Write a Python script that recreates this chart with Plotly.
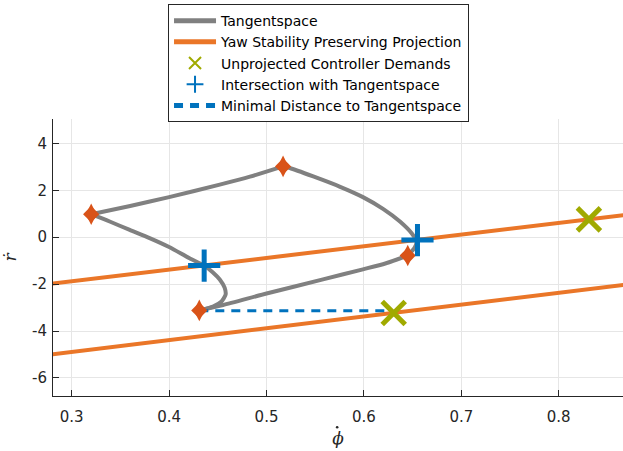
import plotly.graph_objects as go

# ---- data ----
# Tangentspace: four boundary segments (None separates segments)
tangent_x = [0.320, 0.360, 0.400, 0.452, 0.483, 0.517, None,
             0.517, 0.524, 0.548, 0.575, 0.599, 0.620, 0.637, 0.649, 0.654, 0.652, 0.645, None,
             0.645, 0.622, 0.599, 0.558, 0.500, 0.4555, 0.431, None,
             0.431, 0.445, 0.4535, 0.458, 0.457, 0.452, 0.445, 0.436, 0.421, 0.400, 0.380, 0.3596, 0.339, 0.320]
tangent_y = [0.98, 1.33, 1.71, 2.24, 2.58, 3.02, None,
             3.02, 2.95, 2.59, 2.16, 1.71, 1.20, 0.67, 0.17, -0.19, -0.45, -0.78, None,
             -0.78, -1.12, -1.37, -1.80, -2.40, -2.89, -3.12, None,
             -3.12, -2.96, -2.75, -2.45, -2.15, -1.80, -1.50, -1.21, -0.90, -0.42, -0.04, 0.31, 0.67, 0.98]

# Yaw stability preserving projection lines (two lines)
proj_x = [0.280, 0.870, None, 0.280, 0.870]
proj_y = [-1.98, 0.96, None, -4.99, -2.02]

# Corner points of the tangent space
corner_x = [0.320, 0.517, 0.645, 0.431]
corner_y = [0.98, 3.02, -0.78, -3.12]

# Unprojected controller demands
demand_x = [0.831, 0.6306]
demand_y = [0.76, -3.23]

# Intersections with tangent space
inter_x = [0.436, 0.655]
inter_y = [-1.21, -0.12]

# Minimal distance line
mind_x = [0.431, 0.630]
mind_y = [-3.14, -3.14]

xticks = [0.3, 0.4, 0.5, 0.6, 0.7, 0.8]
xticklabels = ["0.3", "0.4", "0.5", "0.6", "0.7", "0.8"]
yticks = [-6, -4, -2, 0, 2, 4]
yticklabels = ["-6", "-4", "-2", "0", "2", "4"]

GRAY = "#808080"
ORANGE = "#EA7628"
OLIVE = "#A0AA00"
BLUE = "#0072BD"
RED = "#D95319"
AX = "#262626"
SANS = "DejaVu Sans, Liberation Sans, sans-serif"
SERIF = "DejaVu Serif, serif"

fig = go.Figure()

fig.add_trace(go.Scatter(x=proj_x, y=proj_y, mode="lines",
                         line=dict(color=ORANGE, width=4),
                         name="Yaw Stability Preserving Projection", legendrank=2))
fig.add_trace(go.Scatter(x=tangent_x, y=tangent_y, mode="lines",
                         line=dict(color=GRAY, width=4, shape="spline", smoothing=0.6),
                         connectgaps=False,
                         name="Tangentspace", legendrank=1))
fig.add_trace(go.Scatter(x=mind_x, y=mind_y, mode="lines",
                         line=dict(color=BLUE, width=3, dash="9px,7px"),
                         name="Minimal Distance to Tangentspace", legendrank=5))
# diamond markers (two overlapping symbols give MATLAB's taller diamond)
fig.add_trace(go.Scatter(x=corner_x, y=corner_y, mode="markers",
                         marker=dict(symbol="diamond", size=12.5, color=RED),
                         showlegend=False, hoverinfo="skip"))
fig.add_trace(go.Scatter(x=corner_x, y=corner_y, mode="markers",
                         marker=dict(symbol="diamond-tall", size=15.5, color=RED),
                         showlegend=False))
fig.add_trace(go.Scatter(x=demand_x, y=demand_y, mode="markers",
                         marker=dict(symbol="x-thin", size=23,
                                     line=dict(color=OLIVE, width=5)),
                         name="Unprojected Controller Demands", legendrank=3))
fig.add_trace(go.Scatter(x=inter_x, y=inter_y, mode="markers",
                         marker=dict(symbol="cross-thin", size=23,
                                     line=dict(color=BLUE, width=5)),
                         name="Intersection with Tangentspace", legendrank=4))

fig.update_layout(
    width=623, height=451,
    margin=dict(l=53, r=0, t=119, b=55, autoexpand=False),
    paper_bgcolor="white", plot_bgcolor="white",
    font=dict(family=SANS, color=AX),
    showlegend=True,
    legend=dict(x=0.2018, y=1.415, xanchor="left", yanchor="top",
                bgcolor="white", bordercolor=AX, borderwidth=1,
                font=dict(family=SANS, size=14, color="#000000"),
                itemwidth=42, itemsizing="constant",
                tracegroupgap=0),
    # dot accent of the x-axis label (phi-dot), drawn as a tiny circle
    shapes=[dict(type="circle", xref="paper", yref="paper",
                 xsizemode="pixel", ysizemode="pixel",
                 xanchor=0.4985, yanchor=-0.113,
                 x0=-1.3, x1=1.3, y0=-1.3, y1=1.3,
                 fillcolor=AX, line=dict(width=0), layer="above")],
)
fig.update_xaxes(range=[0.2808, 0.866], tickvals=xticks, ticktext=xticklabels,
                 showline=True, linecolor=AX, linewidth=1, mirror=False,
                 ticks="inside", ticklen=6, tickcolor=AX, tickwidth=1,
                 showgrid=True, gridcolor="#E6E6E6", gridwidth=1, zeroline=False,
                 tickfont=dict(family=SANS, size=15, color=AX), ticklabelstandoff=7,
                 title=dict(text="<i>\u03d5</i>",
                            font=dict(family=SERIF, size=17, color=AX),
                            standoff=7))
fig.update_yaxes(range=[-6.77, 5.04], tickvals=yticks, ticktext=yticklabels,
                 showline=True, linecolor=AX, linewidth=1, mirror=False,
                 ticks="inside", ticklen=6, tickcolor=AX, tickwidth=1,
                 showgrid=True, gridcolor="#E6E6E6", gridwidth=1, zeroline=False,
                 tickfont=dict(family=SANS, size=15, color=AX), ticklabelstandoff=2,
                 title=dict(text="<i>\u1e59</i>",
                            font=dict(family=SERIF, size=17, color=AX),
                            standoff=12))

fig.write_html("out.html", config={"displayModeBar": False},
               post_script="document.body.style.margin='0px';")
